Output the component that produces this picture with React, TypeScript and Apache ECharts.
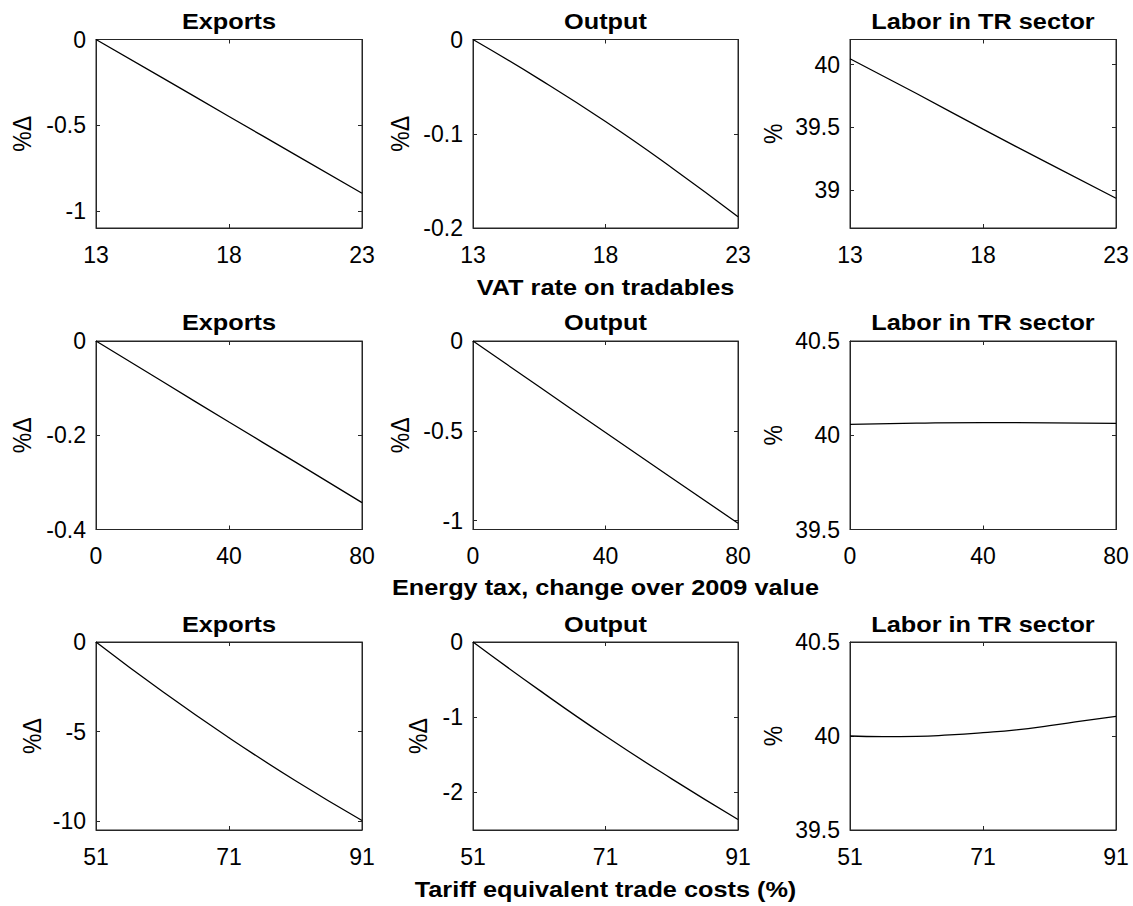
import React, { useEffect, useRef } from "react";
import * as echarts from "echarts";

// ---- Data ----
const vatX = [13, 15.5, 18, 20.5, 23];
const vatExports = [0, -0.224, -0.449, -0.673, -0.897];
const vatOutput = [0, -0.042, -0.087, -0.136, -0.188];
const vatLabor = [40.047, 39.77, 39.487, 39.21, 38.937];

const energyX = [0, 20, 40, 60, 80];
const energyExports = [0, -0.086, -0.172, -0.257, -0.343];
const energyOutput = [0, -0.255, -0.51, -0.763, -1.015];
const energyLabor = [40.058, 40.064, 40.067, 40.066, 40.063];

const tariffX = [51, 61, 71, 81, 91];
const tariffExports = [0, -2.77, -5.35, -7.75, -9.97];
const tariffOutput = [0, -0.64, -1.25, -1.82, -2.36];
const tariffLaborX = [51, 56, 61, 66, 71, 76, 81, 86, 91];
const tariffLabor = [40.0, 39.997, 39.998, 40.006, 40.018, 40.033, 40.055, 40.08, 40.104];

// tick labels
const vatTicks = [13, 18, 23];
const energyTicks = [0, 40, 80];
const tariffTicks = [51, 71, 91];

const rowTitles = ["VAT rate on tradables", "Energy tax, change over 2009 value", "Tariff equivalent trade costs (%)"];
const panelTitles = ["Exports", "Output", "Labor in TR sector"];
const yNames = ["%\u0394", "%\u0394", "%"];

type Panel = {
  x: number[];
  y: number[];
  xMin: number;
  xMax: number;
  xTicks: number[];
  yMin: number;
  yMax: number;
  yTicks: number[];
};

const panels: Panel[][] = [
  [
    { x: vatX, y: vatExports, xMin: 13, xMax: 23, xTicks: vatTicks, yMin: -1.1, yMax: 0, yTicks: [-1, -0.5, 0] },
    { x: vatX, y: vatOutput, xMin: 13, xMax: 23, xTicks: vatTicks, yMin: -0.2, yMax: 0, yTicks: [-0.2, -0.1, 0] },
    { x: vatX, y: vatLabor, xMin: 13, xMax: 23, xTicks: vatTicks, yMin: 38.7, yMax: 40.2, yTicks: [39, 39.5, 40] },
  ],
  [
    { x: energyX, y: energyExports, xMin: 0, xMax: 80, xTicks: energyTicks, yMin: -0.4, yMax: 0, yTicks: [-0.4, -0.2, 0] },
    { x: energyX, y: energyOutput, xMin: 0, xMax: 80, xTicks: energyTicks, yMin: -1.05, yMax: 0, yTicks: [-1, -0.5, 0] },
    { x: energyX, y: energyLabor, xMin: 0, xMax: 80, xTicks: energyTicks, yMin: 39.5, yMax: 40.5, yTicks: [39.5, 40, 40.5] },
  ],
  [
    { x: tariffX, y: tariffExports, xMin: 51, xMax: 91, xTicks: tariffTicks, yMin: -10.5, yMax: 0, yTicks: [-10, -5, 0] },
    { x: tariffX, y: tariffOutput, xMin: 51, xMax: 91, xTicks: tariffTicks, yMin: -2.5, yMax: 0, yTicks: [-2, -1, 0] },
    { x: tariffLaborX, y: tariffLabor, xMin: 51, xMax: 91, xTicks: tariffTicks, yMin: 39.5, yMax: 40.5, yTicks: [39.5, 40, 40.5] },
  ],
];

// ---- Layout ----
const colLeft = [96, 473, 850];
const colWidth = [266, 265, 266];
const rowTop = [39.5, 341, 642];
const rowHeight = [188.5, 188.5, 188];
const panelTitleY = [21.7, 323, 625];
const rowTitleY = [288, 588, 890];
const yNameX = [
  [22, 400, 773],
  [22, 400, 773],
  [32, 418, 773],
];

const FONT = "'Liberation Sans', Arial, Helvetica, sans-serif";
const AX = "#262626";
const TICK_FONT = 23;
const TITLE_FONT = 22;
const TITLE_SCALE_X = 1.15;

function buildOption() {
  const grid: any[] = [];
  const xAxis: any[] = [];
  const yAxis: any[] = [];
  const series: any[] = [];
  const graphic: any[] = [];

  for (let r = 0; r < 3; r++) {
    for (let c = 0; c < 3; c++) {
      const p = panels[r][c];
      const gi = grid.length;
      grid.push({
        left: colLeft[c],
        top: rowTop[r],
        width: colWidth[c],
        height: rowHeight[r],
        show: true,
        borderColor: AX,
        borderWidth: 1,
        backgroundColor: "#fff",
        containLabel: false,
      });
      const xi = xAxis.length;
      const common = {
        gridIndex: gi,
        type: "value",
        splitLine: { show: false },
        axisLine: { show: true, onZero: false, lineStyle: { color: AX, width: 1 } },
      };
      xAxis.push({
        ...common,
        position: "bottom",
        min: p.xMin,
        max: p.xMax,
        axisTick: { show: true, inside: true, length: 4, customValues: p.xTicks, lineStyle: { color: AX } },
        axisLabel: {
          show: true,
          customValues: p.xTicks,
          fontSize: TICK_FONT,
          fontFamily: FONT,
          color: "#000",
          margin: 15,
        },
      });
      xAxis.push({
        ...common,
        position: "top",
        min: p.xMin,
        max: p.xMax,
        axisTick: { show: true, inside: true, length: 4, customValues: p.xTicks, lineStyle: { color: AX } },
        axisLabel: { show: false },
      });
      const yi = yAxis.length;
      yAxis.push({
        ...common,
        position: "left",
        min: p.yMin,
        max: p.yMax,
        axisTick: { show: true, inside: true, length: 4, customValues: p.yTicks, lineStyle: { color: AX } },
        axisLabel: {
          show: true,
          customValues: p.yTicks,
          fontSize: TICK_FONT,
          fontFamily: FONT,
          color: "#000",
          margin: 10,
        },
      });
      yAxis.push({
        ...common,
        position: "right",
        min: p.yMin,
        max: p.yMax,
        axisTick: { show: true, inside: true, length: 4, customValues: p.yTicks, lineStyle: { color: AX } },
        axisLabel: { show: false },
      });
      series.push({
        type: "line",
        xAxisIndex: xi,
        yAxisIndex: yi,
        data: p.x.map((xv, k) => [xv, p.y[k]]),
        showSymbol: false,
        smooth: true,
        lineStyle: { color: "#000", width: 1.3 },
        silent: true,
      });

      graphic.push({
        type: "text",
        x: colLeft[c] + colWidth[c] / 2,
        y: panelTitleY[r],
        scaleX: TITLE_SCALE_X,
        style: {
          text: panelTitles[c],
          fontSize: TITLE_FONT,
          fontWeight: "bold",
          fontFamily: FONT,
          fill: "#000",
          align: "center",
          verticalAlign: "middle",
        },
      });
      graphic.push({
        type: "text",
        x: yNameX[r][c],
        y: rowTop[r] + rowHeight[r] / 2,
        rotation: Math.PI / 2,
        scaleY: 1.15,
        style: {
          text: yNames[c],
          fontSize: 23,
          fontFamily: FONT,
          fill: "#000",
          align: "center",
          verticalAlign: "middle",
        },
      });
    }
    graphic.push({
      type: "text",
      x: colLeft[1] + colWidth[1] / 2,
      y: rowTitleY[r],
      scaleX: TITLE_SCALE_X,
      style: {
        text: rowTitles[r],
        fontSize: TITLE_FONT,
        fontWeight: "bold",
        fontFamily: FONT,
        fill: "#000",
        align: "center",
        verticalAlign: "middle",
      },
    });
  }

  return {
    animation: false,
    backgroundColor: "#fff",
    textStyle: { fontFamily: FONT },
    grid,
    xAxis,
    yAxis,
    series,
    graphic,
  };
}

export default function App() {
  const ref = useRef<HTMLDivElement>(null);
  useEffect(() => {
    if (!ref.current) return;
    const chart = echarts.init(ref.current, undefined, { renderer: "svg" });
    chart.setOption(buildOption() as any);
    return () => chart.dispose();
  }, []);
  return (
    <div
      ref={ref}
      style={{ position: "fixed", left: 0, top: 0, width: 1133, height: 906, background: "#fff" }}
    />
  );
}
